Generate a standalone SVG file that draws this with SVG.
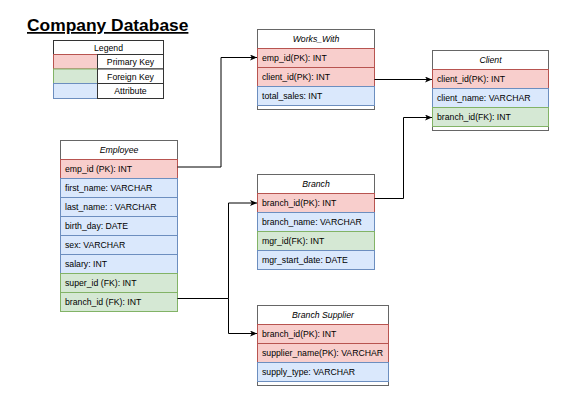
<svg xmlns="http://www.w3.org/2000/svg" width="587" height="402" viewBox="0 0 587 402">
<defs>
<style>
text{font-family:"Liberation Sans",Arial,Helvetica,sans-serif;font-size:8.7px;fill:#000}
.hd{font-style:italic;text-anchor:middle}
.c{text-anchor:middle}
.box{fill:#fff;stroke:#666;stroke-width:1}
.pk{fill:#f8cecc;stroke:#b85450;stroke-width:1}
.fk{fill:#d5e8d4;stroke:#82b366;stroke-width:1}
.at{fill:#dae8fc;stroke:#6c8ebf;stroke-width:1}
.lg{fill:#fff;stroke:#333;stroke-width:1}
.edge{fill:none;stroke:#000;stroke-width:1}
</style>
<marker id="arr" viewBox="0 0 7 6" refX="7" refY="3" markerWidth="7" markerHeight="6" markerUnits="userSpaceOnUse" orient="auto">
<path d="M0,0 L7,3 L0,6 L1.8,3 Z" fill="#000"/>
</marker>
</defs>
<rect width="587" height="402" fill="#fff"/>
<text x="27" y="31" style="font-size:17.4px;font-weight:bold;text-decoration:underline">Company Database</text>

<g id="legend">
<rect class="lg" x="53.5" y="40.5" width="110" height="58"/>
<line x1="53.5" y1="54.5" x2="163.5" y2="54.5" stroke="#333"/>
<text class="c" x="108.5" y="50.6">Legend</text>
<rect class="pk" x="53.5" y="54.5" width="44" height="14.5"/>
<rect class="lg" x="97.5" y="54.5" width="66" height="14.5"/>
<text class="c" x="130.5" y="65">Primary Key</text>
<rect class="fk" x="53.5" y="69" width="44" height="14.5"/>
<rect class="lg" x="97.5" y="69" width="66" height="14.5"/>
<text class="c" x="130.5" y="79.5">Foreign Key</text>
<rect class="at" x="53.5" y="83.5" width="44" height="15"/>
<rect class="lg" x="97.5" y="83.5" width="66" height="15"/>
<text class="c" x="130.5" y="94.2">Attribute</text>
</g>

<g id="employee">
<rect class="box" x="60.5" y="140.5" width="117" height="171"/>
<text class="hd" x="119" y="153.1">Employee</text>
<rect class="pk" x="60.5" y="159.5" width="117" height="19"/>
<text x="65" y="172.1">emp_id (PK): INT</text>
<rect class="at" x="60.5" y="178.5" width="117" height="19"/>
<text x="65" y="191.1">first_name: VARCHAR</text>
<rect class="at" x="60.5" y="197.5" width="117" height="19"/>
<text x="65" y="210.1">last_name: : VARCHAR</text>
<rect class="at" x="60.5" y="216.5" width="117" height="19"/>
<text x="65" y="229.1">birth_day: DATE</text>
<rect class="at" x="60.5" y="235.5" width="117" height="19"/>
<text x="65" y="248.1">sex: VARCHAR</text>
<rect class="at" x="60.5" y="254.5" width="117" height="19"/>
<text x="65" y="267.1">salary: INT</text>
<rect class="fk" x="60.5" y="273.5" width="117" height="19"/>
<text x="65" y="286.1">super_id (FK): INT</text>
<rect class="fk" x="60.5" y="292.5" width="117" height="19"/>
<text x="65" y="305.1">branch_id (FK): INT</text>
</g>

<g id="works_with">
<rect class="box" x="257.5" y="29.5" width="117" height="80"/>
<text class="hd" x="316" y="42.1">Works_With</text>
<rect class="pk" x="257.5" y="48.5" width="117" height="19"/>
<text x="262" y="61.1">emp_id(PK): INT</text>
<rect class="pk" x="257.5" y="67.5" width="117" height="19"/>
<text x="262" y="80.1">client_id(PK): INT</text>
<rect class="at" x="257.5" y="86.5" width="117" height="19"/>
<text x="262" y="99.1">total_sales: INT</text>
</g>

<g id="client">
<rect class="box" x="432.5" y="50.5" width="116" height="80"/>
<text class="hd" x="490.5" y="63.1">Client</text>
<rect class="pk" x="432.5" y="69.5" width="116" height="19"/>
<text x="437" y="82.1">client_id(PK): INT</text>
<rect class="at" x="432.5" y="88.5" width="116" height="19"/>
<text x="437" y="101.1">client_name: VARCHAR</text>
<rect class="fk" x="432.5" y="107.5" width="116" height="19"/>
<text x="437" y="120.1">branch_id(FK): INT</text>
</g>

<g id="branch">
<rect class="box" x="257.5" y="174.5" width="117" height="95"/>
<text class="hd" x="316" y="187.1">Branch</text>
<rect class="pk" x="257.5" y="193.5" width="117" height="19"/>
<text x="262" y="206.1">branch_id(PK): INT</text>
<rect class="at" x="257.5" y="212.5" width="117" height="19"/>
<text x="262" y="225.1">branch_name: VARCHAR</text>
<rect class="fk" x="257.5" y="231.5" width="117" height="19"/>
<text x="262" y="244.1">mgr_id(FK): INT</text>
<rect class="at" x="257.5" y="250.5" width="117" height="19"/>
<text x="262" y="263.1">mgr_start_date: DATE</text>
</g>

<g id="branch_supplier">
<rect class="box" x="257.5" y="305.5" width="131" height="80"/>
<text class="hd" x="323" y="318.1">Branch Supplier</text>
<rect class="pk" x="257.5" y="324.5" width="131" height="19"/>
<text x="262" y="337.1">branch_id(PK): INT</text>
<rect class="pk" x="257.5" y="343.5" width="131" height="19"/>
<text x="262" y="356.1">supplier_name(PK): VARCHAR</text>
<rect class="at" x="257.5" y="362.5" width="131" height="19"/>
<text x="262" y="375.1">supply_type: VARCHAR</text>
</g>

<g id="connectors">
<path class="edge" d="M177.5 167 H221 V57.5 H257" marker-end="url(#arr)"/>
<path class="edge" d="M374.5 79.5 H432" marker-end="url(#arr)"/>
<path class="edge" d="M374.5 198.5 H403.5 V117.5 H432" marker-end="url(#arr)"/>
<path class="edge" d="M177.5 298.5 H228.5 V203 H257" marker-end="url(#arr)"/>
<path class="edge" d="M228.5 298.5 V333.5 H257" marker-end="url(#arr)"/>
</g>
</svg>
